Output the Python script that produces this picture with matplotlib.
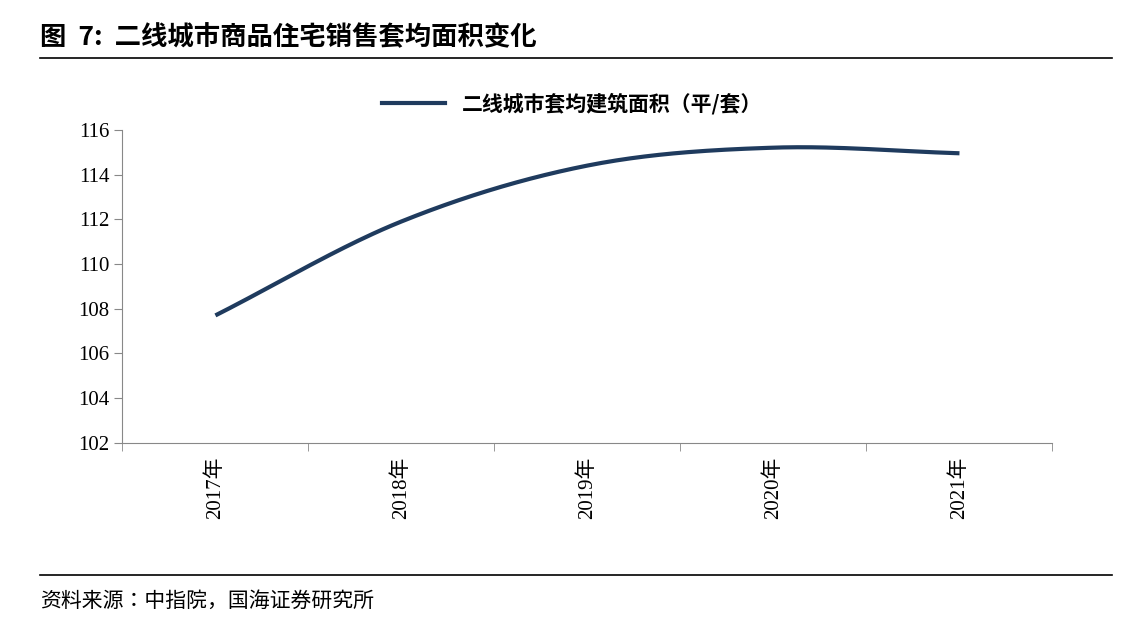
import numpy as np
import matplotlib
matplotlib.use("Agg")
import matplotlib.pyplot as plt
from matplotlib.lines import Line2D

CJK = ['Noto Sans CJK JP', 'Noto Sans CJK SC', 'Noto Sans CJK TC', 'DejaVu Sans']
plt.rcParams['font.family'] = CJK

years = ["2017年", "2018年", "2019年", "2020年", "2021年"]
values = [107.7, 111.9, 114.4, 115.2, 114.95]
yticks = [102, 104, 106, 108, 110, 112, 114, 116]

fig = plt.figure(figsize=(11.44, 6.30), dpi=100)
ax = fig.add_axes([0.107, 0.297, 0.813, 0.497])

x = np.arange(len(values), dtype=float)
y = np.array(values)
m = np.gradient(y, x)
xs, ys = [], []
for i in range(len(x) - 1):
    t = np.linspace(0, 1, 40)
    h00 = 2*t**3 - 3*t**2 + 1; h10 = t**3 - 2*t**2 + t
    h01 = -2*t**3 + 3*t**2; h11 = t**3 - t**2
    xs.extend(x[i] + t)
    ys.extend(h00*y[i] + h10*m[i] + h01*y[i+1] + h11*m[i+1])
ax.plot(xs, ys, color="#1f3b5e", lw=3, solid_capstyle='butt')

ax.set_xlim(-0.5, len(values) - 0.5)
ax.set_ylim(102, 116)
ax.set_yticks(yticks)
ax.set_yticklabels([str(v) for v in yticks], fontsize=15, fontfamily='Liberation Serif')
ax.set_xticks(x)
ax.set_xticklabels(years, rotation=90, fontsize=15, fontfamily=['Liberation Serif'] + CJK)
ax.set_xticks(np.arange(-0.5, len(values), 1), minor=True)
ax.tick_params(axis='x', which='major', length=0, pad=10)
ax.tick_params(axis='x', which='minor', length=6, color='#888888')
ax.tick_params(axis='y', length=6, color='#888888')
for s in ['top', 'right']:
    ax.spines[s].set_visible(False)
ax.spines['left'].set_color('#888888')
ax.spines['bottom'].set_color('#888888')

fig.legend(handles=[Line2D([0], [0], color="#1f3b5e", lw=3)],
           labels=["二线城市套均建筑面积（平/套）"], loc='center',
           bbox_to_anchor=(0.5, 0.835), frameon=False,
           prop={'size': 15, 'weight': 'bold', 'family': CJK}, handlelength=3)

fig.text(0.035, 0.94, "图  7:  二线城市商品住宅销售套均面积变化", fontsize=19,
         fontweight='bold', va='center', fontfamily=CJK)
fig.add_artist(Line2D([0.035, 0.972], [0.908, 0.908], color='black', lw=1.2))
fig.add_artist(Line2D([0.035, 0.972], [0.087, 0.087], color='black', lw=1.2))
fig.text(0.035, 0.047, "资料来源：中指院，国海证券研究所", fontsize=15, va='center', fontfamily=CJK)

fig.savefig("out.png", dpi=100)
